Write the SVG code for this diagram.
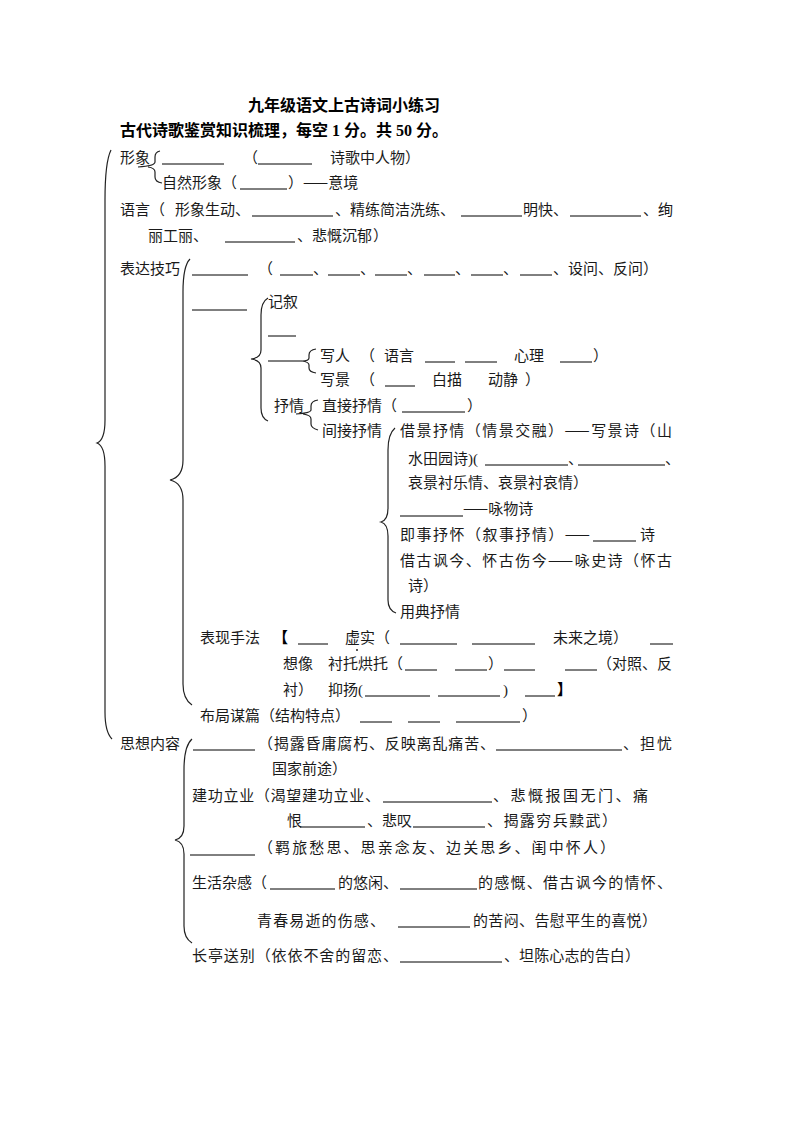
<svg xmlns="http://www.w3.org/2000/svg" width="793" height="1122" viewBox="0 0 793 1122">
<style>
text{font-family:"Liberation Serif","Noto Sans CJK SC",serif;font-size:15px;fill:#1a1a1a}
.t{font-size:16px;font-weight:bold;fill:#000}
.b{font-weight:bold;fill:#000}
.cj{font-family:"Noto Sans CJK SC",sans-serif}
.u{stroke:#000;stroke-width:1}
.br{fill:none;stroke:#222;stroke-width:1.2}
</style>
<rect width="793" height="1122" fill="#fff"/>
<g id="title">
<text class="t" x="248" y="111">九年级语文上古诗词小练习</text>
<text class="t" x="120" y="136">古代诗歌鉴赏知识梳理，每空 1 分。共 50 分。</text>
</g>
<g id="connectors">
<path class="br" d="M111,150 Q105,162 105,200 L105,420 Q105,440 97,443 Q105,446 105,466 L105,712 Q105,732 112,739"/>
<path class="br" d="M190,259 Q183,266 183,292 L183,460 Q183,477 170,480 Q183,483 183,500 L183,684 Q183,699 192,705"/>
<path class="br" d="M192,739 Q184,746 184,770 L184,826 Q184,838 175,840 Q184,842 184,854 L184,926 Q184,938 192,943"/>
<path class="br" d="M268,298 Q261,302 261,315 L261,350 Q261,358 251,359 Q261,360 261,368 L261,408 Q261,418 268,421"/>
<path class="br" d="M316,349 Q309,350 309,355 L309,358 Q309,361 302,361 Q309,362 309,365 L309,368 Q309,372 316,373"/>
<path class="br" d="M318,400 Q311,401 311,406 L311,410 Q311,413 296,414 M303,414 Q311,415 311,419 L311,424 Q311,428 318,430"/>
<path class="br" d="M160,151 Q155,152 155,157 L155,162 Q155,166 138,167 M148,167 Q155,168 155,172 L155,177 Q155,182 162,183"/>
<path class="br" d="M395,428 Q388,434 388,450 L388,508 Q388,520 381,522 Q388,524 388,536 L388,600 Q388,610 396,613"/>
</g>
<g id="xingxiang">
<text x="120" y="163">形象</text>
<line class="u" x1="162" y1="164" x2="224" y2="164"/>
<text x="243" y="163">（</text>
<line class="u" x1="258" y1="164" x2="312" y2="164"/>
<text x="330" y="163">诗歌中人物）</text>
<text x="162" y="188">自然形象（</text>
<line class="u" x1="240" y1="189" x2="287" y2="189"/>
<text x="288" y="188">）<tspan class="cj">——</tspan>意境</text>
</g>
<g id="yuyan">
<text x="120" y="215">语言（</text>
<text x="175" y="215">形象生动、</text>
<line class="u" x1="252" y1="216" x2="333" y2="216"/>
<text x="335" y="215">、精练简洁洗练、</text>
<line class="u" x1="461" y1="216" x2="522" y2="216"/>
<text x="523" y="215">明快、</text>
<line class="u" x1="570" y1="216" x2="641" y2="216"/>
<text x="643" y="215">、绚</text>
<text x="148" y="241">丽工丽、</text>
<line class="u" x1="225" y1="242" x2="295" y2="242"/>
<text x="297" y="241">、悲慨沉郁</text>
<text x="373" y="241">）</text>
</g>
<g id="biaoda">
<text x="120" y="274">表达技巧</text>
<line class="u" x1="192" y1="275" x2="248" y2="275"/>
<text x="258" y="274">（</text>
<line class="u" x1="280" y1="275" x2="313" y2="275"/>
<text x="313" y="274">、</text>
<line class="u" x1="328" y1="275" x2="360" y2="275"/>
<text x="360" y="274">、</text>
<line class="u" x1="375" y1="275" x2="407" y2="275"/>
<text x="407" y="274">、</text>
<line class="u" x1="424" y1="275" x2="455" y2="275"/>
<text x="455" y="274">、</text>
<line class="u" x1="471" y1="275" x2="503" y2="275"/>
<text x="503" y="274">、</text>
<line class="u" x1="520" y1="275" x2="552" y2="275"/>
<text x="553" y="274">、设问、反问）</text>
</g>
<g id="jixu">
<line class="u" x1="192" y1="310" x2="247" y2="310"/>
<text x="268" y="307">记叙</text>
<line class="u" x1="268" y1="336" x2="296" y2="336"/>
<line class="u" x1="268" y1="361" x2="302" y2="361"/>
<text x="320" y="361">写人</text>
<text x="360" y="361">（</text>
<text x="384" y="361">语言</text>
<line class="u" x1="425" y1="362" x2="455" y2="362"/>
<line class="u" x1="465" y1="362" x2="497" y2="362"/>
<text x="514" y="361">心理</text>
<line class="u" x1="560" y1="362" x2="592" y2="362"/>
<text x="593" y="361">）</text>
<text x="320" y="385">写景</text>
<text x="360" y="385">（</text>
<line class="u" x1="385" y1="386" x2="415" y2="386"/>
<text x="432" y="385">白描</text>
<text x="488" y="385">动静</text>
<text x="525" y="385">）</text>
</g>
<g id="shuqing">
<text x="274" y="411">抒情</text>
<text x="322" y="411">直接抒情（</text>
<line class="u" x1="402" y1="412" x2="465" y2="412"/>
<text x="467" y="411">）</text>
<text x="322" y="436">间接抒情</text>
<text x="400" y="436" textLength="272" lengthAdjust="spacing">借景抒情（情景交融）<tspan class="cj">——</tspan>写景诗（山</text>
<text x="408" y="464">水田园诗)(</text>
<line class="u" x1="485" y1="465" x2="568" y2="465"/>
<text x="568" y="464">、</text>
<line class="u" x1="578" y1="465" x2="665" y2="465"/>
<text x="665" y="464">、</text>
<text x="408" y="488">哀景衬乐情、哀景衬哀情）</text>
<line class="u" x1="400" y1="516" x2="463" y2="516"/>
<text x="463" y="514" class="cj">——咏物诗</text>
<text x="400" y="540" textLength="190" lengthAdjust="spacing">即事抒怀（叙事抒情）<tspan class="cj">——</tspan></text>
<line class="u" x1="593" y1="541" x2="636" y2="541"/>
<text x="640" y="540">诗</text>
<text x="400" y="566" textLength="272" lengthAdjust="spacing">借古讽今、怀古伤今<tspan class="cj">——</tspan>咏史诗（怀古</text>
<text x="408" y="591">诗）</text>
<text x="400" y="617">用典抒情</text>
</g>
<g id="shoufa">
<text x="200" y="643">表现手法</text>
<text class="b" x="273" y="643">【</text>
<line class="u" x1="298" y1="644" x2="328" y2="644"/>
<text x="345" y="643">虚实（</text>
<circle cx="357" cy="650" r="1" fill="#222"/>
<line class="u" x1="400" y1="644" x2="457" y2="644"/>
<line class="u" x1="472" y1="644" x2="535" y2="644"/>
<text x="553" y="643">未来之境）</text>
<line class="u" x1="650" y1="644" x2="673" y2="644"/>
<text x="283" y="669">想像</text>
<text x="328" y="669">衬托烘托（</text>
<line class="u" x1="405" y1="670" x2="437" y2="670"/>
<line class="u" x1="455" y1="670" x2="487" y2="670"/>
<text x="488" y="669">）</text>
<line class="u" x1="504" y1="670" x2="535" y2="670"/>
<line class="u" x1="565" y1="670" x2="597" y2="670"/>
<text x="597" y="669">（对照、反</text>
<text x="283" y="695">衬）</text>
<text x="328" y="695">抑扬(</text>
<line class="u" x1="365" y1="696" x2="430" y2="696"/>
<line class="u" x1="438" y1="696" x2="500" y2="696"/>
<text x="503" y="695">)</text>
<line class="u" x1="525" y1="696" x2="555" y2="696"/>
<text class="b" x="557" y="695">】</text>
</g>
<g id="buju">
<text x="200" y="721">布局谋篇（结构特点）</text>
<line class="u" x1="360" y1="722" x2="392" y2="722"/>
<line class="u" x1="408" y1="722" x2="440" y2="722"/>
<line class="u" x1="456" y1="722" x2="520" y2="722"/>
<text x="522" y="721">）</text>
</g>
<g id="sixiang">
<text x="120" y="749">思想内容</text>
<line class="u" x1="193" y1="750" x2="255" y2="750"/>
<text x="258" y="749" textLength="237" lengthAdjust="spacing">（揭露昏庸腐朽、反映离乱痛苦、</text>
<line class="u" x1="496" y1="750" x2="622" y2="750"/>
<text x="623" y="749" textLength="49" lengthAdjust="spacing">、担忧</text>
<text x="272" y="774">国家前途）</text>
</g>
<g id="jiangong">
<text x="192" y="801" textLength="188" lengthAdjust="spacing">建功立业（渴望建功立业、</text>
<line class="u" x1="383" y1="802" x2="492" y2="802"/>
<text x="493" y="801" textLength="155" lengthAdjust="spacing">、悲慨报国无门、痛</text>
<text x="287" y="826">恨</text>
<line class="u" x1="300" y1="827" x2="365" y2="827"/>
<text x="367" y="826">、悲叹</text>
<line class="u" x1="413" y1="827" x2="485" y2="827"/>
<text x="487" y="826" textLength="130" lengthAdjust="spacing">、揭露穷兵黩武）</text>
</g>
<g id="jilv">
<line class="u" x1="190" y1="855" x2="255" y2="855"/>
<text x="258" y="853" textLength="357" lengthAdjust="spacing">（羁旅愁思、思亲念友、边关思乡、闺中怀人）</text>
</g>
<g id="shenghuo">
<text x="192" y="888">生活杂感（</text>
<line class="u" x1="270" y1="889" x2="335" y2="889"/>
<text x="338" y="888">的悠闲、</text>
<line class="u" x1="400" y1="889" x2="477" y2="889"/>
<text x="478" y="888" textLength="194" lengthAdjust="spacing">的感慨、借古讽今的情怀、</text>
<text x="257" y="926" textLength="128" lengthAdjust="spacing">青春易逝的伤感、</text>
<line class="u" x1="398" y1="927" x2="470" y2="927"/>
<text x="473" y="926" textLength="184" lengthAdjust="spacing">的苦闷、告慰平生的喜悦）</text>
</g>
<g id="changting">
<text x="192" y="961" textLength="206" lengthAdjust="spacing">长亭送别（依依不舍的留恋、</text>
<line class="u" x1="400" y1="962" x2="502" y2="962"/>
<text x="504" y="961" textLength="136" lengthAdjust="spacing">、坦陈心志的告白）</text>
</g>
</svg>
